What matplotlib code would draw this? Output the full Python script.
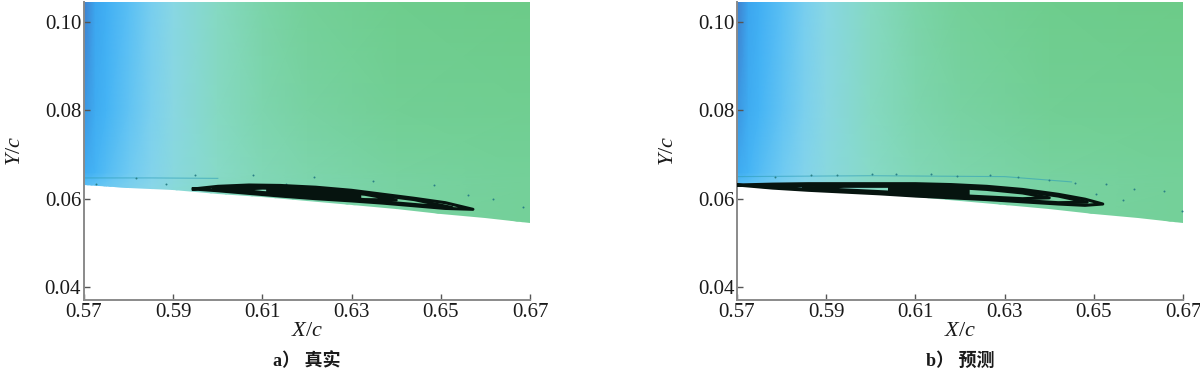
import numpy as np
import matplotlib
matplotlib.use('Agg')
import matplotlib.pyplot as plt
from matplotlib.colors import LinearSegmentedColormap
from matplotlib.patches import Polygon

plt.rcParams['font.family'] = ['Liberation Serif', 'Noto Sans CJK SC']
plt.rcParams['mathtext.fontset'] = 'custom'
plt.rcParams['mathtext.it'] = 'Liberation Serif:italic'
plt.rcParams['mathtext.rm'] = 'Liberation Serif'

# campo de cor (valor normalizado)
field_x = [0.570, 0.5725, 0.575, 0.580, 0.585, 0.590, 0.600, 0.610, 0.620, 0.640, 0.670]
field_y = [0.054, 0.0625, 0.064, 0.066, 0.080, 0.1045]
field_v = [
    [0.30, 0.33, 0.37, 0.44, 0.50, 0.56, 0.65, 0.71, 0.75, 0.82, 0.87],
    [0.30, 0.33, 0.37, 0.44, 0.50, 0.56, 0.65, 0.71, 0.75, 0.82, 0.87],
    [0.26, 0.30, 0.34, 0.42, 0.49, 0.55, 0.65, 0.71, 0.75, 0.82, 0.87],
    [0.15, 0.22, 0.28, 0.38, 0.47, 0.54, 0.64, 0.71, 0.76, 0.83, 0.88],
    [0.06, 0.16, 0.22, 0.33, 0.44, 0.53, 0.66, 0.75, 0.82, 0.90, 0.93],
    [0.00, 0.12, 0.18, 0.30, 0.42, 0.52, 0.66, 0.78, 0.87, 0.96, 1.00],
]

# superficie (parede)
wall_x = [0.57, 0.58, 0.59, 0.60, 0.61, 0.62, 0.63, 0.64, 0.65, 0.66, 0.67]
wall_y = [0.0630, 0.0625, 0.0619, 0.0611, 0.0603, 0.0594, 0.0585, 0.0576, 0.0566, 0.0556, 0.0546]

# bolha de separacao - a) real
a_loops = [
    ([0.5945, 0.600, 0.607, 0.614, 0.622, 0.630, 0.637, 0.644, 0.651, 0.6572],
     [0.0622, 0.0628, 0.0631, 0.0630, 0.0626, 0.0619, 0.0610, 0.0601, 0.0591, 0.0576],
     [0.0622, 0.0618, 0.0612, 0.0606, 0.0600, 0.0595, 0.0590, 0.0584, 0.0578, 0.0576]),
    ([0.599, 0.607, 0.614, 0.622, 0.630, 0.637, 0.644, 0.6525],
     [0.0622, 0.0627, 0.0627, 0.0623, 0.0616, 0.0607, 0.0598, 0.0580],
     [0.0622, 0.0615, 0.0609, 0.0603, 0.0598, 0.0593, 0.0587, 0.0580]),
    ([0.604, 0.610, 0.617, 0.625, 0.633, 0.640],
     [0.0621, 0.0624, 0.0623, 0.0618, 0.0610, 0.0597],
     [0.0621, 0.0614, 0.0609, 0.0603, 0.0598, 0.0597]),
]
a_core = ([0.611, 0.617, 0.625, 0.632],
          [0.0627, 0.0626, 0.0621, 0.0613],
          [0.0611, 0.0607, 0.0601, 0.0597])
a_band_x = [0.570, 0.585, 0.600]
a_band_y = [0.0647, 0.0647, 0.0646]
a_dots_x = [0.5728, 0.5816, 0.5884, 0.5948, 0.6080, 0.6152, 0.6216, 0.6348, 0.6485, 0.6561, 0.6617, 0.6685]
a_dots_y = [0.0634, 0.0647, 0.0634, 0.0653, 0.0653, 0.0634, 0.0649, 0.0641, 0.0630, 0.0608, 0.0600, 0.0581]

# bolha de separacao - b) previsto
b_loops = [
    ([0.570, 0.578, 0.586, 0.594, 0.602, 0.610, 0.618, 0.626, 0.634, 0.642, 0.648, 0.652],
     [0.0631, 0.0633, 0.0634, 0.0634, 0.0634, 0.0634, 0.0632, 0.0628, 0.0621, 0.0610, 0.0599, 0.0588],
     [0.0631, 0.0624, 0.0619, 0.0615, 0.0611, 0.0606, 0.0602, 0.0598, 0.0593, 0.0588, 0.0585, 0.0588]),
    ([0.575, 0.586, 0.594, 0.602, 0.610, 0.618, 0.626, 0.634, 0.642, 0.6485],
     [0.0628, 0.0630, 0.0631, 0.0631, 0.0631, 0.0629, 0.0624, 0.0617, 0.0606, 0.0592],
     [0.0628, 0.0621, 0.0618, 0.0614, 0.0609, 0.0605, 0.0601, 0.0596, 0.0591, 0.0592]),
    ([0.585, 0.594, 0.602, 0.610, 0.618, 0.626, 0.634, 0.640],
     [0.0624, 0.0628, 0.0628, 0.0628, 0.0626, 0.0621, 0.0613, 0.0602],
     [0.0624, 0.0620, 0.0616, 0.0612, 0.0608, 0.0604, 0.0600, 0.0602]),
]
b_core = ([0.604, 0.610, 0.616, 0.622],
          [0.0631, 0.0632, 0.0630, 0.0627],
          [0.0614, 0.0610, 0.0607, 0.0605])
b_band_x = [0.570, 0.600, 0.630, 0.645]
b_band_y = [0.0650, 0.0652, 0.0650, 0.0638]
b_dots_x = [0.5786, 0.5865, 0.5923, 0.6002, 0.6056, 0.6135, 0.6193, 0.6267, 0.6329, 0.6400,
            0.6458, 0.6528, 0.6590, 0.6657, 0.6504, 0.6565, 0.6698]
b_dots_y = [0.0649, 0.0654, 0.0654, 0.0655, 0.0655, 0.0655, 0.0651, 0.0654, 0.0648, 0.0642,
            0.0636, 0.0633, 0.0622, 0.0618, 0.0610, 0.0596, 0.0573]

x_ticks = [0.57, 0.59, 0.61, 0.63, 0.65, 0.67]
y_ticks = [0.04, 0.06, 0.08, 0.10]
captions = ['a） 真实', 'b） 预测']

cmap = LinearSegmentedColormap.from_list('campo', [
    (0.00, '#3f7fcc'), (0.10, '#3aa4ee'), (0.22, '#45b4f5'), (0.38, '#6ecaf2'),
    (0.50, '#88d6ea'), (0.60, '#8adbd0'), (0.72, '#80d7b4'), (0.85, '#75d19c'),
    (1.00, '#6ccb88')])


def draw_panel(ax, loops, core, band_x, band_y, dots_x, dots_y, caption):
    X, Y = np.meshgrid(field_x, field_y)
    mesh = ax.pcolormesh(X, Y, np.array(field_v), shading='gouraud', cmap=cmap,
                         vmin=0, vmax=1, rasterized=True)
    top = field_y[-1]
    poly = list(zip(wall_x, wall_y)) + [(wall_x[-1], top), (wall_x[0], top)]
    clip = Polygon(poly, closed=True, transform=ax.transData, facecolor='none', edgecolor='none')
    ax.add_patch(clip)
    mesh.set_clip_path(clip)

    ax.plot(band_x, band_y, color='#2f9fb8', lw=0.8, alpha=0.6)
    ax.scatter(dots_x, dots_y, s=2, color='#2a7f86', zorder=3, linewidths=0)

    for lx, up, lo in loops:
        xs = list(lx) + list(lx[::-1])
        ys = list(up) + list(lo[::-1])
        ax.plot(xs + [xs[0]], ys + [ys[0]], color='#06140f', lw=2.2, zorder=4)
    cx, cu, cl = core
    ax.fill(list(cx) + list(cx[::-1]), list(cu) + list(cl[::-1]), color='#06140f', zorder=4)

    ax.set_xlim(0.57, 0.67)
    ax.set_ylim(0.03708, 0.1045)
    ax.set_xticks(x_ticks)
    ax.set_xticklabels([f'{v:.2f}' for v in x_ticks])
    ax.set_yticks(y_ticks)
    ax.set_yticklabels([f'{v:.2f}' for v in y_ticks])
    for s in ['top', 'right']:
        ax.spines[s].set_visible(False)
    for s in ['left', 'bottom']:
        ax.spines[s].set_color('#8a8a8a')
        ax.spines[s].set_linewidth(1.4)
    ax.tick_params(direction='in', length=4, width=1, colors='#555555',
                   labelcolor='#1a1a1a', labelsize=15, pad=2)
    ax.set_xlabel('$X/c$', fontsize=16, labelpad=0, color='#1a1a1a')
    ax.set_ylabel('$Y/c$', fontsize=16, labelpad=14, color='#1a1a1a')
    ax.text(0.5, -0.205, caption, transform=ax.transAxes, ha='center', va='center',
            fontsize=13, fontweight='bold', color='#1a1a1a')


fig = plt.figure(figsize=(12, 3.78), dpi=100)
ax1 = fig.add_axes([0.07, 0.2063, 0.3717, 0.7884])
ax2 = fig.add_axes([0.6142, 0.2063, 0.3717, 0.7884])
draw_panel(ax1, a_loops, a_core, a_band_x, a_band_y, a_dots_x, a_dots_y, captions[0])
draw_panel(ax2, b_loops, b_core, b_band_x, b_band_y, b_dots_x, b_dots_y, captions[1])

fig.savefig('out.png', dpi=100)
